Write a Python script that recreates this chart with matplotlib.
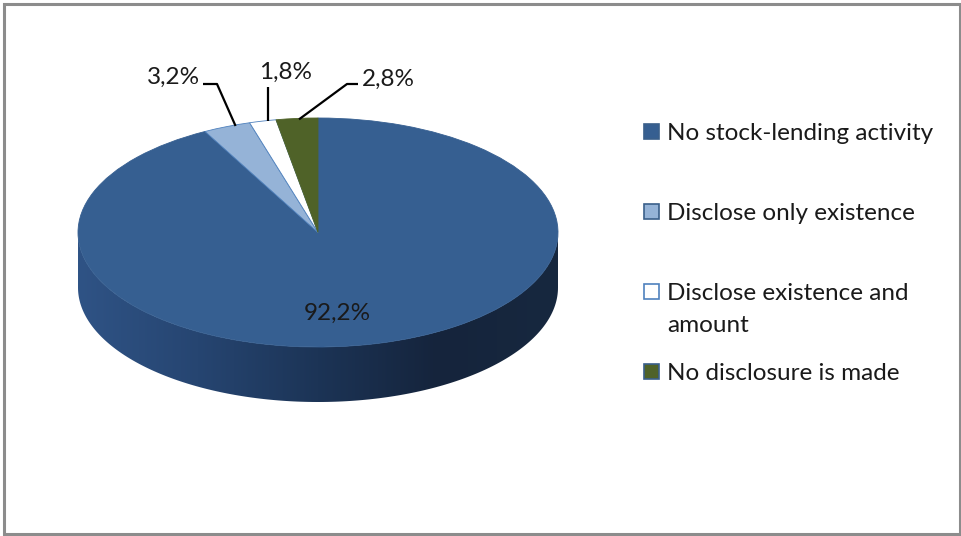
import numpy as np
import matplotlib.pyplot as plt
from matplotlib.patches import Polygon, Rectangle
from matplotlib.colors import LinearSegmentedColormap

plt.rcParams['font.family'] = ['Lato', 'DejaVu Sans']

labels = ['No stock-lending activity', 'Disclose only existence',
          'Disclose existence and\namount', 'No disclosure is made']
values = [92.2, 3.2, 1.8, 2.8]
value_labels = ['92,2%', '3,2%', '1,8%', '2,8%']
colors = ['#365F91', '#95B3D7', '#FFFFFF', '#4F6228']
edge_colors = ['#365F91', '#4F81BD', '#4F81BD', '#4F6228']

W, H = 961, 536
# pie geometry in pixels (top face ellipse) and wall depth
CX, CY, RX, RY, DEPTH = 318, 232.5, 240, 114.5, 55
K = RY / RX

fig = plt.figure(figsize=(W / 100, H / 100), dpi=100)

# pie axes: x in pixels, y in pixels / K so circles become ellipses
ax = fig.add_axes([0, 0, 1, 1])
cyd = (H - CY) / K
wedges, _ = ax.pie(values, colors=colors, startangle=90, counterclock=False,
                   radius=RX, center=(CX, cyd), frame=True,
                   wedgeprops=dict(linewidth=0.6, zorder=3))
for w, ec in zip(wedges, edge_colors):
    w.set_edgecolor(ec)

# side wall of the visible (lower) half
side_cmap = LinearSegmentedColormap.from_list(
    'side', ['#2F5385', '#264571', '#1C3456', '#15243C', '#17283F'])
dd = DEPTH / K
for w in wedges:
    a, b = max(w.theta1, -180), min(w.theta2, 0)
    if a >= b:
        continue
    t = np.radians(np.linspace(a, b, 200))
    xs = CX + RX * np.cos(t)
    ys = cyd + RX * np.sin(t)
    pts = np.concatenate([np.column_stack([xs, ys]),
                          np.column_stack([xs[::-1], ys[::-1] - dd])])
    poly = Polygon(pts, closed=True, facecolor='none', edgecolor='none', zorder=1)
    ax.add_patch(poly)
    grad = np.linspace(0, 1, 256)[None, :]
    im = ax.imshow(grad, cmap=side_cmap, aspect='auto', zorder=1,
                   extent=[CX - RX, CX + RX, cyd - RX - dd, cyd + RX])
    im.set_clip_path(poly)
ax.set_xlim(0, W)
ax.set_ylim(0, H / K)
ax.set_aspect('auto')
ax.axis('off')

# overlay axes in pixel coordinates for border, labels and legend
ov = fig.add_axes([0, 0, 1, 1])
ov.set_xlim(0, W)
ov.set_ylim(H, 0)
ov.axis('off')
ov.patch.set_alpha(0)

ov.add_patch(Rectangle((3.5, 3.5), W - 5, H - 6, facecolor='none',
                       edgecolor='#8C8C8C', linewidth=2.2))

fs = 17.5
txt = '#1A1A1A'
# big slice label
ov.text(337, 320, value_labels[0], fontsize=fs, ha='center', va='baseline', color=txt)

# small slice labels with leader lines, anchored at wedge mid-angle on the rim
label_pos = [None, (173, 84), (286, 79), (388, 86)]
elbows = [None, [(203, 84), (217, 84)], [], [(358, 84), (347, 84)]]
for i in range(1, len(values)):
    w = wedges[i]
    m = ((w.theta1 + w.theta2) / 2) % 360
    # slight squeeze toward 12 o'clock mimics the perspective of the original
    mid = np.radians(90 + (m - 90) * 0.9)
    rim = (CX + RX * np.cos(mid), CY - RY * np.sin(mid) + 1)
    pts = elbows[i] + [rim]
    if not elbows[i]:
        pts = [(rim[0], 87), rim]
    xs, ys = zip(*pts)
    ov.plot(xs, ys, color='black', linewidth=1.6, solid_capstyle='butt')
    ov.text(*label_pos[i], value_labels[i], fontsize=fs, ha='center', va='baseline',
            color=txt)

# legend
row_base = [140, 220, 300, 380]
for lab, c, y in zip(labels, colors, row_base):
    ov.add_patch(Rectangle((644, y - 16), 15, 15, facecolor=c,
                           edgecolor='#4F81BD' if c == '#FFFFFF' else '#3A5F8A',
                           linewidth=1.2))
    for j, line in enumerate(lab.split('\n')):
        ov.text(667, y + 32 * j, line, fontsize=fs, ha='left', va='baseline',
                color=txt)

fig.savefig('out.png', dpi=100, facecolor='white')
